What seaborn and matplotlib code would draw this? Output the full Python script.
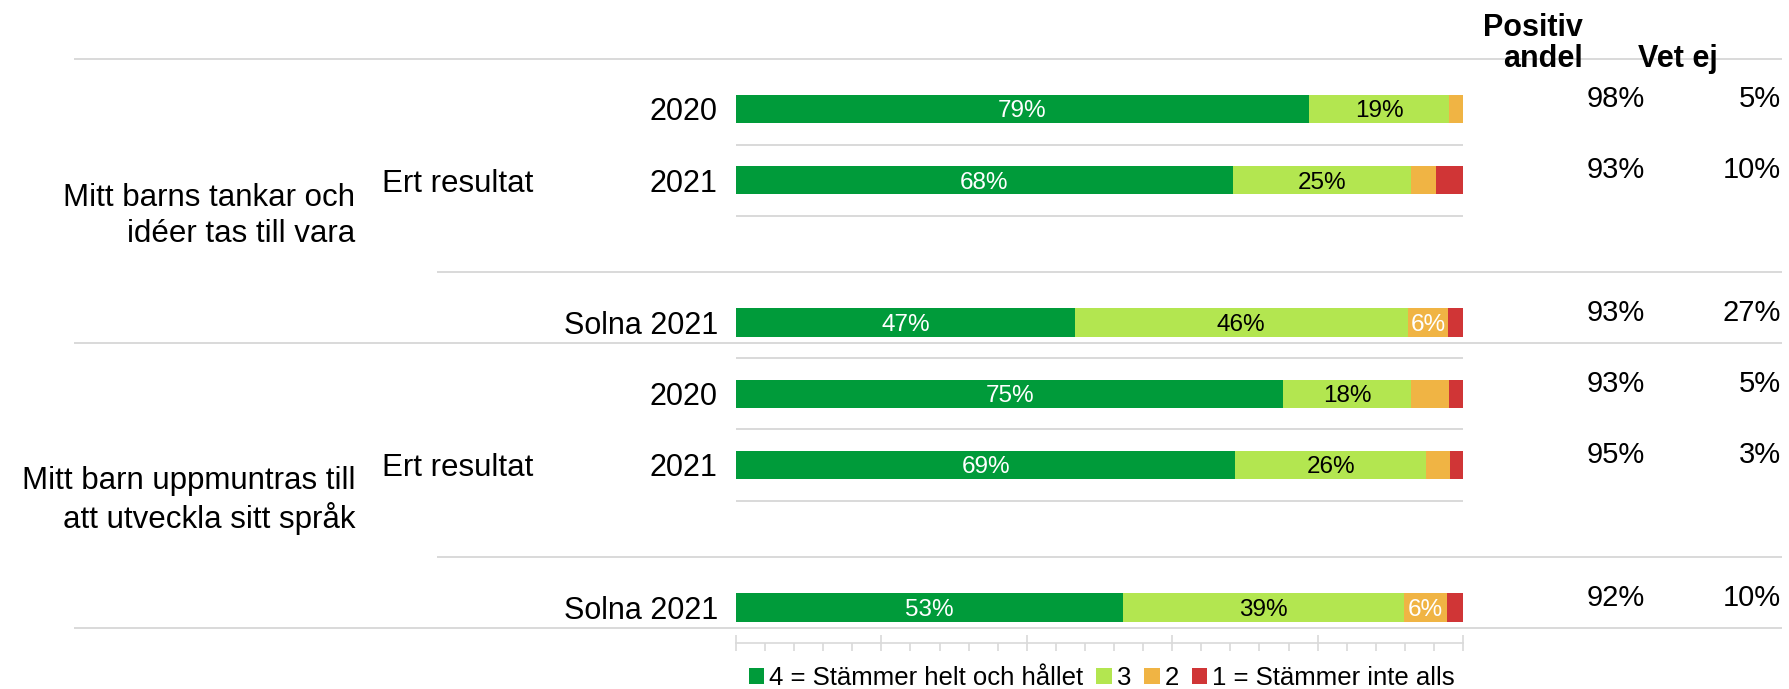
import numpy as np
import pandas as pd
import seaborn as sns
import matplotlib.pyplot as plt
from matplotlib.patches import Patch

# data
questions = ["Mitt barns tankar och\nidéer tas till vara",
             "Mitt barn uppmuntras till\natt utveckla sitt språk"]
row_labels = ["2020", "2021", "Solna 2021"]
group_label = "Ert resultat"
categories = ["4 = Stämmer helt och hållet", "3", "2", "1 = Stämmer inte alls"]
colors = ["#009B3A", "#B3E650", "#F0B444", "#D03536"]

# share per answer (4, 3, 2, 1) for the rows 2020, 2021, Solna 2021
q1_values = [[78.8, 19.3, 1.9, 0.0],
             [68.3, 24.6, 3.4, 3.7],
             [46.6, 45.8, 5.6, 2.0]]
q2_values = [[75.3, 17.6, 5.2, 1.9],
             [68.7, 26.2, 3.3, 1.8],
             [53.2, 38.7, 5.9, 2.2]]
positive_share = [98, 93, 93, 93, 95, 92]
dont_know = [5, 10, 27, 5, 3, 10]

# layout: row slots, question blocks take 4 slots (one empty before Solna)
slot_in_block = [0, 1, 3]
block = 4

rows = []
for qi, vals in enumerate([q1_values, q2_values]):
    for ri, v in enumerate(vals):
        cum = np.cumsum(v)
        for ci, cat in enumerate(categories):
            rows.append(dict(pos=qi * block + slot_in_block[ri], row=ri, answer=cat,
                             value=v[ci], start=cum[ci] - v[ci], end=cum[ci]))
df = pd.DataFrame(rows)

sns.set_theme(style="white", rc={'text.color': 'black'})
plt.rcParams['font.family'] = ['Liberation Sans', 'DejaVu Sans']

W, H = 1789, 689
fig = plt.figure(figsize=(W / 100, H / 100), dpi=100)
ax = fig.add_axes([736 / W, 46 / H, 727 / W, 584 / H])

# stacked bars: draw cumulative ends from last to first category
for cat, col in reversed(list(zip(categories, colors))):
    sns.barplot(data=df[df.answer == cat], x='end', y='pos', orient='y', native_scale=True,
                color=col, saturation=1, width=0.4, errorbar=None, linewidth=0, ax=ax)

for _, r in df.iterrows():
    if r.value >= 5.5 and r.answer != categories[3]:
        ax.text((r.start + r.end) / 2, r.pos, f"{r.value:.0f}%", ha='center', va='center_baseline',
                color='black' if r.answer == categories[1] else 'white', fontsize=17.5)

ax.set_xlim(0, 100)
ax.set_ylim(7.5, -0.702)
ax.set_xlabel("")
ax.set_ylabel("")
ax.set_yticks([])
for s in ['top', 'left', 'right']:
    ax.spines[s].set_visible(False)
ax.spines['bottom'].set_color('#D9D9D9')
ax.spines['bottom'].set_linewidth(1.2)
ax.set_xticks(range(0, 101, 20))
ax.set_xticks(range(0, 101, 4), minor=True)
ax.set_xticklabels([])
ax.tick_params(axis='x', which='major', bottom=True, direction='inout', length=12, width=1.2, color='#D9D9D9')
ax.tick_params(axis='x', which='minor', bottom=True, direction='out', length=6, width=1.2, color='#D9D9D9')

grey = '#D9D9D9'
lw = 1.4
left_all, left_grp, right_all = -91.1, -41.1, 143.9
ax.hlines(-0.702, left_all, right_all, color=grey, lw=lw, clip_on=False)

for qi, q in enumerate(questions):
    base = qi * block
    solna = base + slot_in_block[2]
    # thin separators under the "Ert resultat" rows
    seps = [base + 0.5, base + 1.5] + ([base - 0.5] if qi > 0 else [])
    for y in seps:
        ax.hlines(y, 0, 100, color=grey, lw=lw, clip_on=False)
    ax.hlines(solna - 0.71, left_grp, right_all, color=grey, lw=lw, clip_on=False)
    ax.hlines(solna + 0.29, left_all, right_all, color=grey, lw=lw, clip_on=False)

    ax.text(-52.4, base + 1.5, q, ha='right', va='center', fontsize=22.5, linespacing=1.25)
    ax.text(-48.7, base + 1, group_label, ha='left', va='center_baseline', fontsize=22.5)
    for ri, lab in enumerate(row_labels):
        ax.text(-2.5, base + slot_in_block[ri], lab, ha='right', va='center_baseline', fontsize=22)

for i, pos in enumerate(sorted(df.pos.unique())):
    ax.text(125.0, pos - 0.18, f"{positive_share[i]}%", ha='right', va='center_baseline', fontsize=21)
    ax.text(143.7, pos - 0.18, f"{dont_know[i]}%", ha='right', va='center_baseline', fontsize=21)

ax.text(116.5, -0.59, "Positiv\nandel", ha='right', va='baseline', fontsize=22,
        fontweight='bold', linespacing=1.05)
ax.text(135.1, -0.59, "Vet ej", ha='right', va='baseline', fontsize=22, fontweight='bold')

handles = [Patch(facecolor=c, edgecolor='none') for c in colors]
fig.legend(handles, categories, loc='center', bbox_to_anchor=(1102 / W, 1 - 678 / H), ncol=4,
           frameon=False, fontsize=18.5, handlelength=0.6, handleheight=0.6, handletextpad=0.2,
           columnspacing=0.5, borderpad=0, labelcolor='black')

fig.savefig("out.png", dpi=100)
